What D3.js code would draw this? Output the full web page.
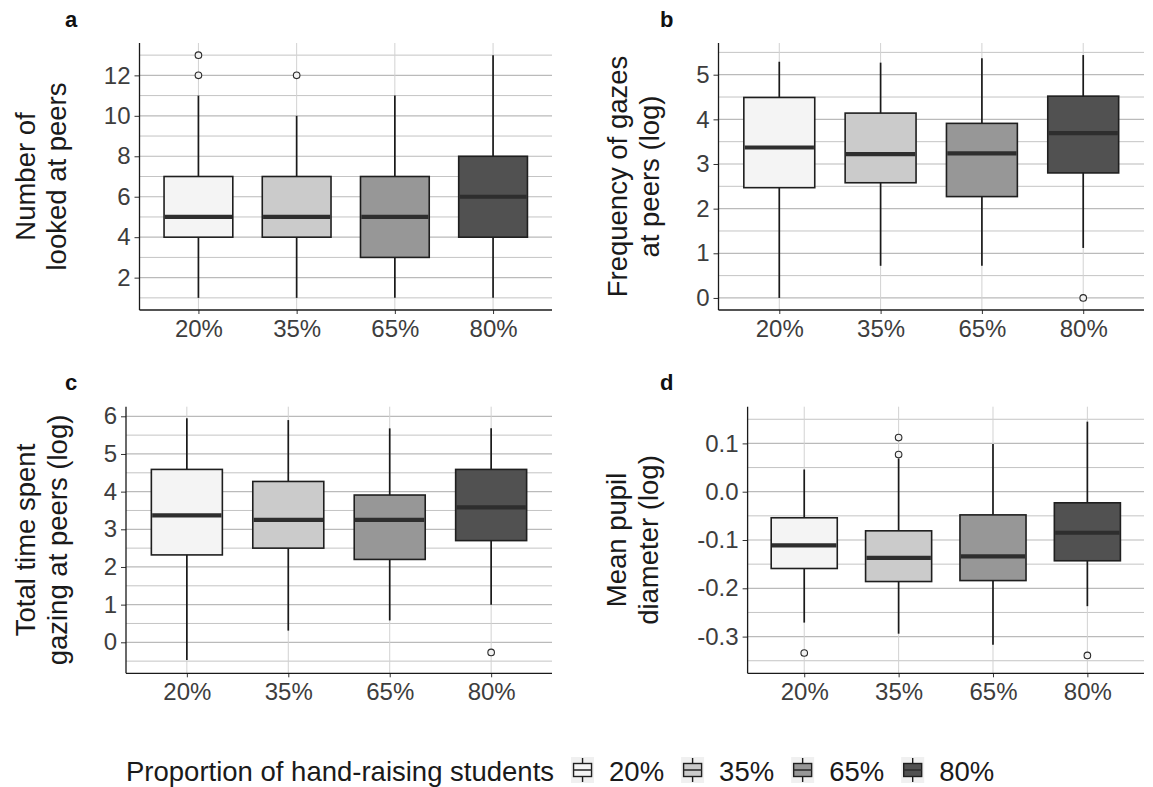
<!DOCTYPE html>
<html>
<head>
<meta charset="utf-8">
<script src="https://cdn.jsdelivr.net/npm/d3@7"></script>
<style>
  html, body { margin: 0; padding: 0; background: #ffffff; }
  svg { display: block; font-family: "Liberation Sans", Arial, sans-serif; }
</style>
</head>
<body>
<svg id="chart" width="1153" height="787"></svg>
<script>
// ---------- DATA ----------
const categories = ["20%", "35%", "65%", "80%"];
const fills = ["#f4f4f4", "#cbcbcb", "#979797", "#515151"];
const legendTitle = "Proportion of hand-raising students";

// Panel a: Number of looked at peers
const aLow  = [1, 1, 1, 1];
const aQ1   = [4, 4, 3, 4];
const aMed  = [5, 5, 5, 6];
const aQ3   = [7, 7, 7, 8];
const aHigh = [11, 10, 11, 13];
const aOut  = [[12, 13], [12], [], []];
const aTicks = [2, 4, 6, 8, 10, 12];
const aMinor = [1, 3, 5, 7, 9, 11, 13];

// Panel b: Frequency of gazes at peers (log)
const bLow  = [0.0, 0.72, 0.72, 1.12];
const bQ1   = [2.47, 2.58, 2.27, 2.80];
const bMed  = [3.37, 3.22, 3.24, 3.69];
const bQ3   = [4.49, 4.14, 3.91, 4.52];
const bHigh = [5.29, 5.27, 5.37, 5.44];
const bOut  = [[], [], [], [0.0]];
const bTicks = [0, 1, 2, 3, 4, 5];
const bMinor = [0.5, 1.5, 2.5, 3.5, 4.5, 5.5];

// Panel c: Total time spent gazing at peers (log)
const cLow  = [-0.47, 0.31, 0.58, 1.0];
const cQ1   = [2.32, 2.50, 2.20, 2.70];
const cMed  = [3.37, 3.25, 3.25, 3.58];
const cQ3   = [4.59, 4.27, 3.91, 4.59];
const cHigh = [5.95, 5.90, 5.68, 5.68];
const cOut  = [[], [], [], [-0.27]];
const cTicks = [0, 1, 2, 3, 4, 5, 6];
const cMinor = [-0.5, 0.5, 1.5, 2.5, 3.5, 4.5, 5.5];

// Panel d: Mean pupil diameter (log)
const dLow  = [-0.271, -0.294, -0.317, -0.237];
const dQ1   = [-0.159, -0.186, -0.184, -0.143];
const dMed  = [-0.111, -0.137, -0.134, -0.085];
const dQ3   = [-0.054, -0.081, -0.048, -0.023];
const dHigh = [0.046, 0.069, 0.099, 0.145];
const dOut  = [[-0.334], [0.077, 0.112], [], [-0.339]];
const dTicks = [-0.3, -0.2, -0.1, 0.0, 0.1];
const dMinor = [-0.35, -0.25, -0.15, -0.05, 0.05, 0.15];

// ---------- LAYOUT ----------
const svg = d3.select("#chart");

const panels = [
  { letter: "a", letterX: 65, letterY: 27, left: 139.5, right: 552, top: 43, bottom: 310,
    domain: [0.4, 13.6], ticks: aTicks, minor: aMinor, fmt: d => String(d),
    low: aLow, q1: aQ1, med: aMed, q3: aQ3, high: aHigh, out: aOut,
    title: ["Number of", "looked at peers"], titleX: [35, 66] },
  { letter: "b", letterX: 660, letterY: 27, left: 718.5, right: 1144, top: 43, bottom: 310,
    domain: [-0.27, 5.71], ticks: bTicks, minor: bMinor, fmt: d => String(d),
    low: bLow, q1: bQ1, med: bMed, q3: bQ3, high: bHigh, out: bOut,
    title: ["Frequency of gazes", "at peers (log)"], titleX: [627, 659] },
  { letter: "c", letterX: 65, letterY: 390, left: 126, right: 552, top: 406.7, bottom: 673.3,
    domain: [-0.823, 6.255], ticks: cTicks, minor: cMinor, fmt: d => String(d),
    low: cLow, q1: cQ1, med: cMed, q3: cQ3, high: cHigh, out: cOut,
    title: ["Total time spent", "gazing at peers (log)"], titleX: [35, 67] },
  { letter: "d", letterX: 660, letterY: 390, left: 747.6, right: 1144, top: 406.7, bottom: 673.3,
    domain: [-0.376, 0.176], ticks: dTicks, minor: dMinor,
    fmt: d => d3.format(".1f")(d).replace("\u2212", "-"),
    low: dLow, q1: dQ1, med: dMed, q3: dQ3, high: dHigh, out: dOut,
    title: ["Mean pupil", "diameter (log)"], titleX: [626, 658] }
];

panels.forEach(p => {
  const g = svg.append("g");
  const x = d3.scalePoint().domain(categories).range([p.left, p.right]).padding(0.6);
  const y = d3.scaleLinear().domain(p.domain).range([p.bottom, p.top]);
  const bw = x.step() * 0.7;

  // grid: minor + major horizontals
  g.selectAll(".hminor").data(p.minor).join("line")
    .attr("x1", p.left).attr("x2", p.right)
    .attr("y1", d => y(d)).attr("y2", d => y(d))
    .attr("stroke", "#c4c4c4").attr("stroke-width", 1);
  g.selectAll(".hmajor").data(p.ticks).join("line")
    .attr("x1", p.left).attr("x2", p.right)
    .attr("y1", d => y(d)).attr("y2", d => y(d))
    .attr("stroke", "#bababa").attr("stroke-width", 1.2);
  // vertical grid at categories
  g.selectAll(".vgrid").data(categories).join("line")
    .attr("x1", d => x(d)).attr("x2", d => x(d))
    .attr("y1", p.top).attr("y2", p.bottom)
    .attr("stroke", "#d2d2d2").attr("stroke-width", 1);

  // whiskers
  categories.forEach((c, i) => {
    g.append("line")
      .attr("x1", x(c)).attr("x2", x(c))
      .attr("y1", y(p.high[i])).attr("y2", y(p.low[i]))
      .attr("stroke", "#1a1a1a").attr("stroke-width", 1.7);
  });
  // boxes
  categories.forEach((c, i) => {
    g.append("rect")
      .attr("x", x(c) - bw / 2).attr("width", bw)
      .attr("y", y(p.q3[i])).attr("height", y(p.q1[i]) - y(p.q3[i]))
      .attr("fill", fills[i]).attr("stroke", "#1f1f1f").attr("stroke-width", 1.6);
    g.append("line")
      .attr("x1", x(c) - bw / 2 + 0.8).attr("x2", x(c) + bw / 2 - 0.8)
      .attr("y1", y(p.med[i])).attr("y2", y(p.med[i]))
      .attr("stroke", "#2e2e2e").attr("stroke-width", 4.2);
    p.out[i].forEach(v => {
      g.append("circle")
        .attr("cx", x(c)).attr("cy", y(v)).attr("r", 3.3)
        .attr("fill", "#f2f2f2").attr("stroke", "#2a2a2a").attr("stroke-width", 1.1);
    });
  });

  // y axis
  const ya = g.append("g").attr("transform", `translate(${p.left},0)`)
    .call(d3.axisLeft(y).tickValues(p.ticks).tickSize(5).tickPadding(4).tickFormat(p.fmt));
  ya.select(".domain").remove();
  ya.selectAll(".tick line").attr("stroke", "#333333").attr("stroke-width", 1);
  ya.selectAll(".tick text").attr("font-size", 24).attr("fill", "#3d3d3d")
    .attr("font-family", "Liberation Sans, Arial, sans-serif");
  g.append("line").attr("x1", p.left).attr("x2", p.left)
    .attr("y1", p.top).attr("y2", p.bottom)
    .attr("stroke", "#1a1a1a").attr("stroke-width", 1.3);

  // x axis
  const xa = g.append("g").attr("transform", `translate(0,${p.bottom})`)
    .call(d3.axisBottom(x).tickSize(4).tickPadding(6));
  xa.select(".domain").remove();
  xa.selectAll(".tick line").attr("stroke", "#333333").attr("stroke-width", 1);
  xa.selectAll(".tick text").attr("font-size", 24).attr("fill", "#3d3d3d")
    .attr("font-family", "Liberation Sans, Arial, sans-serif");
  g.append("line").attr("x1", p.left).attr("x2", p.right)
    .attr("y1", p.bottom).attr("y2", p.bottom)
    .attr("stroke", "#1a1a1a").attr("stroke-width", 1.3);

  // y title (two lines, rotated)
  const cy = (p.top + p.bottom) / 2;
  p.title.forEach((t, k) => {
    g.append("text")
      .attr("transform", `translate(${p.titleX[k]},${cy}) rotate(-90)`)
      .attr("text-anchor", "middle")
      .attr("font-size", 27.5).attr("fill", "#1a1a1a")
      .text(t);
  });

  // panel letter
  g.append("text").attr("x", p.letterX).attr("y", p.letterY)
    .attr("font-size", 22).attr("font-weight", "bold").attr("fill", "#111")
    .text(p.letter);
});

// ---------- LEGEND ----------
const lg = svg.append("g");
const baseY = 781;
const t0 = lg.append("text").attr("x", 126).attr("y", baseY)
  .attr("font-size", 27.5).attr("fill", "#1a1a1a").text(legendTitle);
let cx = 126 + t0.node().getComputedTextLength() + 17;
categories.forEach((c, i) => {
  const kx = cx, kw = 23, ky = 757, kh = 26;
  lg.append("rect").attr("x", kx).attr("y", ky).attr("width", kw).attr("height", kh)
    .attr("fill", "#f0f0f0");
  lg.append("line").attr("x1", kx + kw / 2).attr("x2", kx + kw / 2)
    .attr("y1", ky + 1).attr("y2", ky + kh - 1)
    .attr("stroke", "#1a1a1a").attr("stroke-width", 1.4);
  lg.append("rect").attr("x", kx + 2.5).attr("y", ky + 6.5).attr("width", kw - 5).attr("height", 13)
    .attr("fill", fills[i]).attr("stroke", "#1f1f1f").attr("stroke-width", 1.4);
  lg.append("line").attr("x1", kx + 2.5).attr("x2", kx + kw - 2.5)
    .attr("y1", ky + 13).attr("y2", ky + 13)
    .attr("stroke", "#2e2e2e").attr("stroke-width", 1.6);
  const tt = lg.append("text").attr("x", kx + kw + 15).attr("y", baseY)
    .attr("font-size", 27.5).attr("fill", "#1a1a1a").text(c);
  cx = kx + kw + 15 + tt.node().getComputedTextLength() + 17;
});
</script>
</body>
</html>
